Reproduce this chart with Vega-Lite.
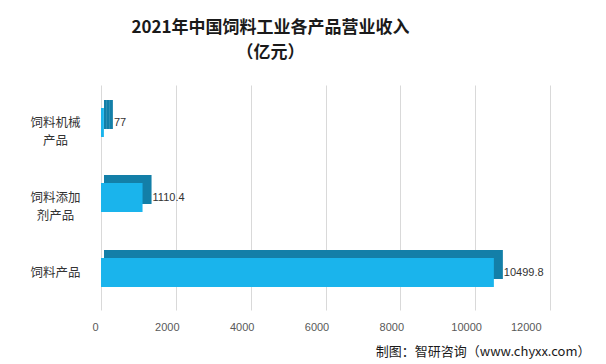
{
  "$schema": "https://vega.github.io/schema/vega-lite/v6.json",
  "width": 449,
  "height": 225,
  "autosize": "none",
  "padding": {"left": 101, "top": 85, "right": 56, "bottom": 54},
  "background": "white",
  "config": {"view": {"stroke": null}},
  "title": {
    "text": ["2021年中国饲料工业各产品营业收入", "（亿元）"],
    "anchor": "middle",
    "dx": -55,
    "font": "Noto Sans CJK SC",
    "fontSize": 17,
    "fontWeight": "bold",
    "color": "#1a1a1a",
    "lineHeight": 25,
    "offset": 23
  },
  "data": {
    "values": [
      {"category": "饲料机械产品", "value": 77},
      {"category": "饲料添加剂产品", "value": 1110.4},
      {"category": "饲料产品", "value": 10499.8}
    ]
  },
  "encoding": {
    "y": {
      "field": "category",
      "type": "nominal",
      "sort": null,
      "scale": {"paddingInner": 0, "paddingOuter": 0},
      "axis": {
        "title": null,
        "domain": false,
        "ticks": false,
        "labelAlign": "center",
        "labelPadding": 46,
        "labelFont": "Noto Sans CJK SC",
        "labelFontSize": 12.5,
        "labelColor": "#333333",
        "labelLineHeight": 18,
        "labelExpr": "datum.value == '饲料机械产品' ? ['饲料机械','产品'] : datum.value == '饲料添加剂产品' ? ['饲料添加','剂产品'] : datum.label"
      }
    },
    "x": {
      "field": "value",
      "type": "quantitative",
      "scale": {"domain": [0, 12000], "nice": false},
      "axis": {
        "values": [0, 2000, 4000, 6000, 8000, 10000, 12000],
        "domain": false,
        "ticks": false,
        "grid": true,
        "gridColor": "#d9d9d9",
        "labelFont": "Liberation Sans",
        "labelFontSize": 11,
        "labelColor": "#595959",
        "labelPadding": 11,
        "labelOffset": -9,
        "format": "d",
        "title": "制图：智研咨询（www.chyxx.com）",
        "titleFont": "Noto Sans CJK SC",
        "titleFontSize": 13,
        "titleFontWeight": "normal",
        "titleColor": "#1a1a1a",
        "titleAnchor": "end",
        "titleAlign": "right",
        "titleX": 489,
        "titleY": 35
      }
    }
  },
  "layer": [
    {
      "mark": {"type": "bar", "height": 29, "color": "#137FA8", "xOffset": 3, "yOffset": -8}
    },
    {
      "mark": {"type": "bar", "height": 29, "color": "#137FA8", "xOffset": 6, "yOffset": -8}
    },
    {
      "mark": {"type": "bar", "height": 29, "color": "#137FA8", "xOffset": 9, "yOffset": -8}
    },
    {
      "mark": {"type": "bar", "height": 29, "color": "#1AB4EC"}
    },
    {
      "mark": {"type": "text", "align": "left", "dx": 10, "font": "Liberation Sans", "fontSize": 11, "color": "#333333"},
      "encoding": {"text": {"field": "value", "type": "quantitative"}}
    }
  ]
}
